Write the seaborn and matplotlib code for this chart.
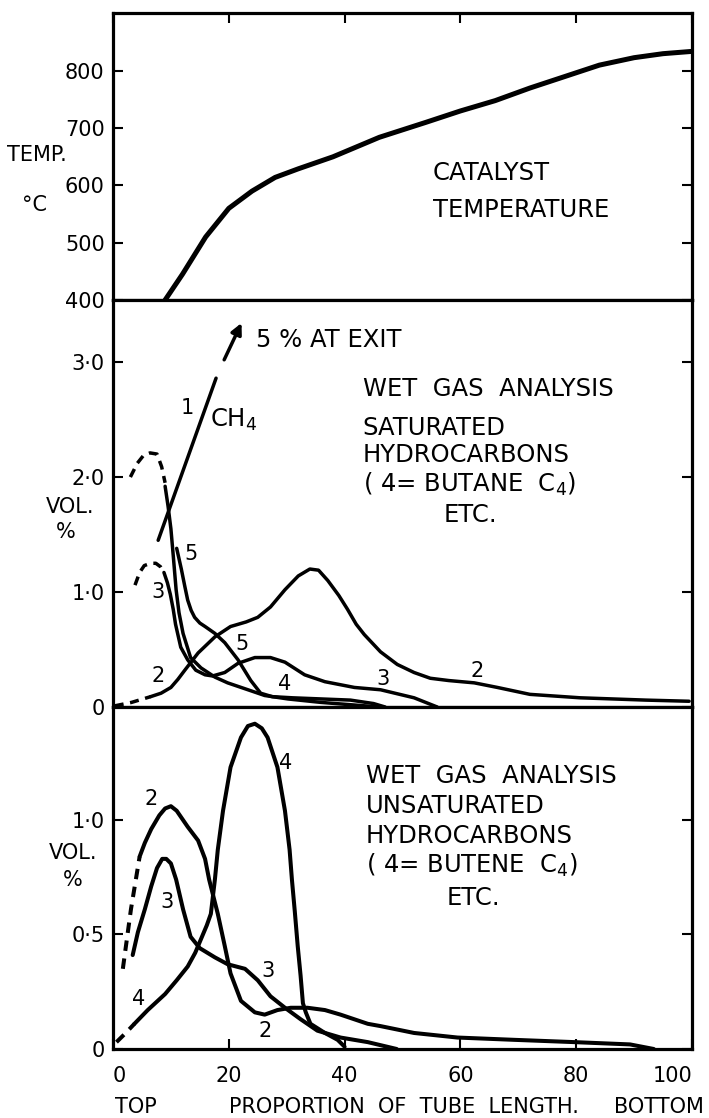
import numpy as np
import matplotlib
matplotlib.use("Agg")
import matplotlib.pyplot as plt
import seaborn as sns

# ---------------- data ----------------
# catalyst temperature (top panel)
temp_x = [9, 12, 16, 20, 24, 28, 32, 38, 46, 54, 60, 66, 72, 78, 84, 90, 95, 100]
temp_y = [400, 445, 510, 560, 590, 614, 629, 650, 684, 710, 730, 748, 770, 790, 810, 823, 830, 834]

# saturated hydrocarbons (middle panel)
sat_ch4_x = [7.8, 17.8]
sat_ch4_y = [1.45, 2.86]
sat_ch4_arrow_x = [19.2, 22.2]
sat_ch4_arrow_y = [3.02, 3.34]

sat_c2_dash_x = [0.3, 3.2, 6.5]
sat_c2_dash_y = [0.01, 0.04, 0.09]
sat_c2_x = [6.5, 8.3, 10, 11.2, 12.4, 14.7, 17.6, 20.3, 23, 25, 27.2, 29.7, 32, 34, 35.5, 37.1,
            39, 40.5, 42, 43.4, 46.2, 49.1, 52, 54.8, 58, 62.4, 66.4, 72, 80.7, 92, 99.5]
sat_c2_y = [0.09, 0.12, 0.17, 0.24, 0.32, 0.47, 0.61, 0.70, 0.74, 0.78, 0.87, 1.02, 1.14, 1.20, 1.19, 1.10,
            0.97, 0.85, 0.72, 0.63, 0.48, 0.37, 0.30, 0.25, 0.23, 0.21, 0.17, 0.11, 0.08, 0.06, 0.05]

sat_c3_dash_x = [3.8, 4.6, 5.4, 6.5, 7.4, 8.2, 8.8]
sat_c3_dash_y = [1.06, 1.17, 1.23, 1.25, 1.25, 1.22, 1.17]
sat_c3_x = [8.8, 9.4, 9.9, 10.4, 10.8, 11.7, 12.9, 14.3, 15.9, 17.2, 19.3, 21.6, 24.5, 27.2, 29.7,
            33.1, 36.6, 41.7, 46.2, 52, 56]
sat_c3_y = [1.17, 1.08, 0.98, 0.85, 0.72, 0.52, 0.41, 0.32, 0.28, 0.27, 0.30, 0.38, 0.43, 0.43, 0.39,
            0.28, 0.22, 0.17, 0.15, 0.08, 0.0]

sat_c4_dash_x = [3.0, 4.2, 5.3, 6.4, 7.6, 8.4, 9.0]
sat_c4_dash_y = [2.00, 2.12, 2.19, 2.21, 2.20, 2.09, 1.95]
sat_c4_x = [9.0, 9.5, 10.0, 10.4, 10.9, 11.4, 12.1, 13.4, 15.2, 17.6, 19.8, 23.3, 26.2, 30.2, 35.9, 41, 46]
sat_c4_y = [1.92, 1.75, 1.55, 1.32, 1.02, 0.82, 0.64, 0.43, 0.34, 0.26, 0.21, 0.15, 0.10, 0.07, 0.04, 0.02, 0.0]

sat_c5_x = [11.0, 11.8, 12.4, 12.9, 13.5, 14.1, 15.0, 15.9, 17.6, 19.3, 21.6, 23.8, 25.5, 27.5, 31, 36, 41, 45, 47]
sat_c5_y = [1.38, 1.20, 1.05, 0.93, 0.84, 0.78, 0.73, 0.70, 0.64, 0.56, 0.41, 0.23, 0.12, 0.09, 0.08, 0.07, 0.06, 0.03, 0.0]

# unsaturated hydrocarbons (bottom panel)
unsat_c2_dash_x = [1.7, 3.1, 4.6]
unsat_c2_dash_y = [0.35, 0.61, 0.84]
unsat_c2_x = [4.6, 5.5, 6.6, 8, 9, 10, 11, 12.9, 14.7, 15.9, 16.6, 18.1, 19.3, 20.3, 22.1, 24.5, 26.2,
              28.4, 30.7, 33.6, 36.6, 39.3, 44, 46.2, 52, 59.5, 69.3, 79.7, 89.3, 93.4]
unsat_c2_y = [0.84, 0.90, 0.96, 1.02, 1.05, 1.06, 1.04, 0.97, 0.91, 0.83, 0.74, 0.59, 0.45, 0.33, 0.21, 0.16, 0.15,
              0.17, 0.18, 0.18, 0.17, 0.15, 0.11, 0.10, 0.07, 0.05, 0.04, 0.03, 0.02, 0.0]

unsat_c3_x = [3.4, 4.3, 5.5, 6.6, 7.6, 8.5, 9.2, 10, 10.9, 12.1, 13.4, 15, 17.6, 19.8, 22.8, 25, 27.2,
              29.7, 32.4, 35.3, 39.3, 44, 49]
unsat_c3_y = [0.41, 0.51, 0.61, 0.71, 0.79, 0.83, 0.83, 0.81, 0.74, 0.61, 0.49, 0.44, 0.40, 0.37, 0.35, 0.30, 0.23,
              0.18, 0.13, 0.08, 0.05, 0.03, 0.0]

unsat_c4_dash_x = [0.6, 2.2, 3.7]
unsat_c4_dash_y = [0.03, 0.07, 0.11]
unsat_c4_x = [3.7, 6, 9, 11, 12.9, 14.2, 15.2, 16.2, 16.9, 17.6, 18.1, 19.0, 20.3, 22.1, 23.3, 24.5, 25.7,
              26.7, 28.4, 29.7, 30.5, 30.9, 31.4, 31.9, 32.4, 32.8, 33.3, 34.1, 36.6, 38.8, 40.0]
unsat_c4_y = [0.11, 0.17, 0.24, 0.30, 0.36, 0.42, 0.48, 0.54, 0.59, 0.74, 0.87, 1.04, 1.23, 1.36, 1.41, 1.42, 1.40,
              1.36, 1.23, 1.04, 0.87, 0.74, 0.60, 0.45, 0.32, 0.20, 0.16, 0.11, 0.07, 0.04, 0.01]

x_ticks = [0, 20, 40, 60, 80, 100]
temp_ticks = [400, 500, 600, 700, 800]
sat_ticks = [0, 1, 2, 3]
sat_tick_labels = ["0", "1·0", "2·0", "3·0"]
unsat_ticks = [0, 0.5, 1.0]
unsat_tick_labels = ["0", "0·5", "1·0"]

# ---------------- style ----------------
sns.set_style("ticks")
plt.rcParams["font.family"] = ["DejaVu Sans"]
plt.rcParams["mathtext.fontset"] = "dejavusans"
for k in ["text.color", "axes.labelcolor", "xtick.color", "ytick.color", "axes.edgecolor"]:
    plt.rcParams[k] = "black"

FS = 15      # ticks, numbers, side labels
FT = 17.5    # annotation text blocks
fig, axes = plt.subplots(3, 1, figsize=(7.09, 11.18), dpi=100, sharex=True,
                         gridspec_kw=dict(height_ratios=[287, 407, 342], hspace=0))
fig.subplots_adjust(left=113 / 709, right=692 / 709, top=1 - 13 / 1118, bottom=1 - 1049 / 1118)
ax_t, ax_m, ax_b = axes


def draw(ax, x, y, lw, dashed=False):
    sns.lineplot(x=x, y=y, ax=ax, color="black", lw=lw, estimator=None, sort=False, legend=False)
    line = ax.lines[-1]
    line.set_solid_joinstyle("round")
    line.set_solid_capstyle("round")
    if dashed:
        line.set_dashes([2.6, 1.9])
        line.set_dash_capstyle("butt")
    return line


for ax in axes:
    ax.set_xlim(0, 100)
    for s in ax.spines.values():
        s.set_linewidth(2.3)
        s.set_color("black")
        s.set_visible(True)
    ax.tick_params(axis="both", direction="in", length=7, width=1.5, colors="black",
                   labelsize=FS, left=True, right=True, top=False, bottom=False,
                   labelbottom=False, pad=6)
    ax.set_xlabel("")
    ax.set_ylabel("")

# top panel
draw(ax_t, temp_x, temp_y, 3.6)
ax_t.set_ylim(400, 901)
ax_t.set_yticks(temp_ticks)
ax_t.set_yticklabels([str(v) for v in temp_ticks])
ax_t.set_xticks(x_ticks)
ax_t.tick_params(axis="x", top=True, bottom=False)
ax_t.text(55.2, 621, "CATALYST", fontsize=FT, va="center", ha="left")
ax_t.text(55.2, 557, "TEMPERATURE", fontsize=FT, va="center", ha="left")

# middle panel
lw_m = 2.5
draw(ax_m, sat_ch4_x, sat_ch4_y, lw_m)
ax_m.annotate("", xy=(sat_ch4_arrow_x[1], sat_ch4_arrow_y[1]),
              xytext=(sat_ch4_arrow_x[0], sat_ch4_arrow_y[0]),
              arrowprops=dict(arrowstyle="-|>", color="black", lw=2.5, mutation_scale=16,
                              shrinkA=0, shrinkB=0))
draw(ax_m, sat_c2_dash_x, sat_c2_dash_y, lw_m, dashed=True)
draw(ax_m, sat_c2_x, sat_c2_y, lw_m)
draw(ax_m, sat_c3_dash_x, sat_c3_dash_y, lw_m, dashed=True)
draw(ax_m, sat_c3_x, sat_c3_y, lw_m)
draw(ax_m, sat_c4_dash_x, sat_c4_dash_y, lw_m, dashed=True)
draw(ax_m, sat_c4_x, sat_c4_y, lw_m)
draw(ax_m, sat_c5_x, sat_c5_y, lw_m)
ax_m.set_ylim(0, 3.54)
ax_m.set_yticks(sat_ticks)
ax_m.set_yticklabels(sat_tick_labels)
ax_m.tick_params(axis="x", top=False, bottom=False)

ax_m.text(24.7, 3.19, "5 % AT EXIT", fontsize=FT, va="center", ha="left")
ax_m.text(12.9, 2.60, "1", fontsize=FS, va="center", ha="center")
ax_m.text(16.7, 2.50, "CH$_4$", fontsize=FT, va="center", ha="left")
for (lx, ly, s) in [(13.5, 1.33, "5"), (7.8, 1.0, "3"), (7.8, 0.27, "2"), (22.2, 0.55, "5"),
                    (29.6, 0.20, "4"), (46.6, 0.24, "3"), (62.9, 0.31, "2")]:
    ax_m.text(lx, ly, s, fontsize=FS, va="center", ha="center")
ax_m.text(43.1, 2.77, "WET  GAS  ANALYSIS", fontsize=FT, va="center", ha="left")
ax_m.text(43.1, 2.43, "SATURATED", fontsize=FT, va="center", ha="left")
ax_m.text(43.1, 2.19, "HYDROCARBONS", fontsize=FT, va="center", ha="left")
ax_m.text(43.1, 1.94, "( 4= BUTANE  C$_4$)", fontsize=FT, va="center", ha="left")
ax_m.text(61.7, 1.67, "ETC.", fontsize=FT, va="center", ha="center")

# bottom panel
lw_b = 2.9
draw(ax_b, unsat_c2_dash_x, unsat_c2_dash_y, lw_b, dashed=True)
draw(ax_b, unsat_c2_x, unsat_c2_y, lw_b)
draw(ax_b, unsat_c3_x, unsat_c3_y, lw_b)
draw(ax_b, unsat_c4_dash_x, unsat_c4_dash_y, lw_b, dashed=True)
draw(ax_b, unsat_c4_x, unsat_c4_y, lw_b)
ax_b.set_ylim(0, 1.493)
ax_b.set_yticks(unsat_ticks)
ax_b.set_yticklabels(unsat_tick_labels)
ax_b.set_xticks(x_ticks)
ax_b.set_xticklabels([str(v) for v in x_ticks])
ax_b.tick_params(axis="x", bottom=True, top=False, labelbottom=True, pad=12)
xt_labels = ax_b.get_xticklabels()
xt_labels[0].set_horizontalalignment("left")
xt_labels[-1].set_horizontalalignment("right")
for (lx, ly, s) in [(6.6, 1.09, "2"), (29.8, 1.25, "4"), (9.4, 0.64, "3"), (26.7, 0.34, "3"),
                    (4.5, 0.22, "4"), (26.3, 0.08, "2")]:
    ax_b.text(lx, ly, s, fontsize=FS, va="center", ha="center")
ax_b.text(43.7, 1.19, "WET  GAS  ANALYSIS", fontsize=FT, va="center", ha="left")
ax_b.text(43.7, 1.06, "UNSATURATED", fontsize=FT, va="center", ha="left")
ax_b.text(43.7, 0.93, "HYDROCARBONS", fontsize=FT, va="center", ha="left")
ax_b.text(43.7, 0.80, "( 4= BUTENE  C$_4$)", fontsize=FT, va="center", ha="left")
ax_b.text(62.2, 0.66, "ETC.", fontsize=FT, va="center", ha="center")

# side and bottom labels (figure pixel positions)
W, H = 709, 1118


def ftext(px, py, s, ha="center", size=FS):
    fig.text(px / W, 1 - py / H, s, fontsize=size, ha=ha, va="center")


ftext(37, 155, "TEMP.")
ftext(35, 205, "°C")
ftext(70, 507, "VOL.")
ftext(66, 532, "%")
ftext(73, 853, "VOL.")
ftext(73, 880, "%")
ftext(115, 1107, "TOP", ha="left")
ftext(229, 1107, "PROPORTION  OF  TUBE  LENGTH.", ha="left")
ftext(704, 1107, "BOTTOM", ha="right")

fig.savefig("out.png", dpi=100)
